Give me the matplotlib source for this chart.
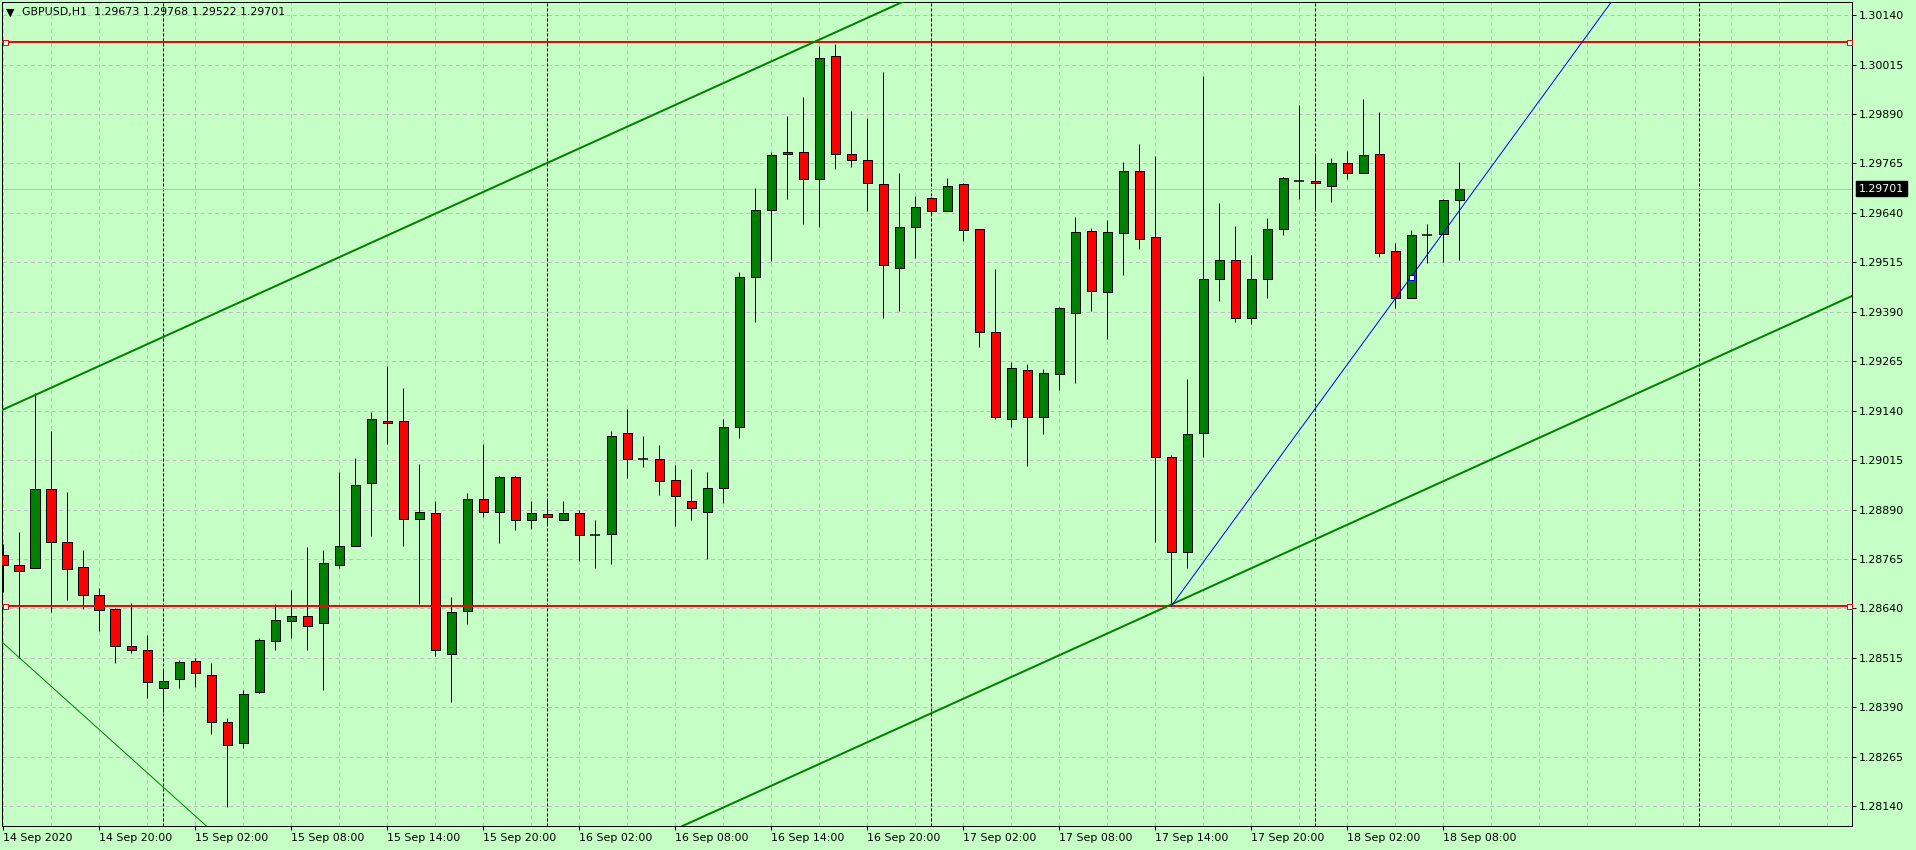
import numpy as np
import matplotlib.pyplot as plt
import matplotlib.transforms as mtransforms

plt.rcParams['font.family'] = ['DejaVu Sans']
plt.rcParams['lines.scale_dashes'] = False

# GBPUSD H1, first bar = 14 Sep 2020 14:00
opens = [1.28775, 1.28749, 1.28741, 1.28941, 1.28807, 1.28744, 1.28673, 1.28638, 1.28544, 1.28536,
         1.28440, 1.28461, 1.28506, 1.28471, 1.28354, 1.28299, 1.28430, 1.28557, 1.28607, 1.28622,
         1.28602, 1.28751, 1.28799, 1.28956, 1.29115, 1.29113, 1.28865, 1.28880, 1.28526, 1.28633,
         1.28916, 1.28883, 1.28971, 1.28863, 1.28878, 1.28863, 1.28880, 1.28825, 1.28827, 1.29083,
         1.29019, 1.29019, 1.28964, 1.28911, 1.28885, 1.28944, 1.29098, 1.29477, 1.29646, 1.29788,
         1.29795, 1.29725, 1.30036, 1.29788, 1.29773, 1.29712, 1.29500, 1.29603, 1.29677, 1.29644,
         1.29712, 1.29598, 1.29340, 1.29120, 1.29242, 1.29125, 1.29232, 1.29386, 1.29593, 1.29439,
         1.29588, 1.29745, 1.29578, 1.29022, 1.28782, 1.29083, 1.29472, 1.29520, 1.29373, 1.29472,
         1.29598, 1.29721, 1.29720, 1.29707, 1.29765, 1.29740, 1.29788, 1.29543, 1.29424, 1.29585,
         1.29586, 1.29673]
highs = [1.28804, 1.28832, 1.29184, 1.29088, 1.28934, 1.28787, 1.28691, 1.28640, 1.28654, 1.28573,
         1.28488, 1.28509, 1.28514, 1.28501, 1.28362, 1.28433, 1.28565, 1.28650, 1.28686, 1.28795,
         1.28787, 1.28985, 1.29020, 1.29136, 1.29253, 1.29197, 1.29005, 1.28911, 1.28669, 1.28933,
         1.29055, 1.28974, 1.28974, 1.28911, 1.28913, 1.28911, 1.28890, 1.28863, 1.29088, 1.29143,
         1.29077, 1.29052, 1.29002, 1.28992, 1.28986, 1.29118, 1.29490, 1.29702, 1.29795, 1.29884,
         1.29934, 1.30063, 1.30068, 1.29897, 1.29881, 1.29995, 1.29740, 1.29683, 1.29680, 1.29728,
         1.29715, 1.29598, 1.29497, 1.29262, 1.29257, 1.29244, 1.29401, 1.29629, 1.29601, 1.29621,
         1.29768, 1.29813, 1.29783, 1.29029, 1.29219, 1.29986, 1.29664, 1.29608, 1.29533, 1.29626,
         1.29730, 1.29912, 1.29783, 1.29778, 1.29796, 1.29928, 1.29894, 1.29564, 1.29596, 1.29613,
         1.29675, 1.29768]
lows = [1.28681, 1.28514, 1.28741, 1.28630, 1.28662, 1.28638, 1.28584, 1.28503, 1.28528, 1.28414,
        1.28377, 1.28439, 1.28442, 1.28322, 1.28138, 1.28288, 1.28425, 1.28536, 1.28564, 1.28534,
        1.28434, 1.28743, 1.28799, 1.28824, 1.29055, 1.28798, 1.28652, 1.28520, 1.28404, 1.28601,
        1.28872, 1.28806, 1.28839, 1.28841, 1.28851, 1.28863, 1.28760, 1.28743, 1.28753, 1.28970,
        1.28998, 1.28927, 1.28849, 1.28863, 1.28765, 1.28906, 1.29072, 1.29365, 1.29519, 1.29676,
        1.29611, 1.29603, 1.29752, 1.29755, 1.29645, 1.29373, 1.29392, 1.29527, 1.29636, 1.29644,
        1.29570, 1.29300, 1.29120, 1.29099, 1.29001, 1.29082, 1.29191, 1.29209, 1.29393, 1.29320,
        1.29482, 1.29548, 1.28808, 1.28646, 1.28741, 1.29024, 1.29416, 1.29363, 1.29358, 1.29426,
        1.29583, 1.29676, 1.29651, 1.29668, 1.29726, 1.29740, 1.29529, 1.29399, 1.29424, 1.29512,
        1.29516, 1.29522]
closes = [1.28751, 1.28734, 1.28941, 1.28807, 1.28739, 1.28673, 1.28636, 1.28544, 1.28534, 1.28453,
          1.28456, 1.28504, 1.28477, 1.28352, 1.28294, 1.28423, 1.28559, 1.28610, 1.28620, 1.28596,
          1.28754, 1.28797, 1.28951, 1.29120, 1.29110, 1.28865, 1.28883, 1.28534, 1.28630, 1.28916,
          1.28883, 1.28971, 1.28863, 1.28880, 1.28870, 1.28880, 1.28825, 1.28825, 1.29077, 1.29019,
          1.29019, 1.28961, 1.28923, 1.28893, 1.28944, 1.29098, 1.29477, 1.29646, 1.29785, 1.29793,
          1.29725, 1.30031, 1.29788, 1.29773, 1.29715, 1.29507, 1.29603, 1.29656, 1.29644, 1.29709,
          1.29596, 1.29338, 1.29125, 1.29247, 1.29125, 1.29234, 1.29399, 1.29591, 1.29442, 1.29591,
          1.29745, 1.29573, 1.29024, 1.28782, 1.29080, 1.29472, 1.29522, 1.29373, 1.29472, 1.29598,
          1.29727, 1.29721, 1.29715, 1.29765, 1.29740, 1.29785, 1.29538, 1.29424, 1.29583, 1.29585,
          1.29672, 1.29701]

price_ticks = [1.28140, 1.28265, 1.28390, 1.28515, 1.28640, 1.28765, 1.28890, 1.29015, 1.29140,
               1.29265, 1.29390, 1.29515, 1.29640, 1.29765, 1.29890, 1.30015, 1.30140]
time_tick_bars = list(range(0, 92, 6))
time_labels = ['14 Sep 2020', '14 Sep 20:00', '15 Sep 02:00', '15 Sep 08:00', '15 Sep 14:00',
               '15 Sep 20:00', '16 Sep 02:00', '16 Sep 08:00', '16 Sep 14:00', '16 Sep 20:00',
               '17 Sep 02:00', '17 Sep 08:00', '17 Sep 14:00', '17 Sep 20:00', '18 Sep 02:00',
               '18 Sep 08:00']
day_separators = [10, 34, 58, 82, 106]

bid = 1.29701
support = 1.28646
resistance = 1.30072
channel_slope = 0.0001833
channel_upper = (0, 1.29143)
channel_lower = (73, 1.28650)
old_trend = (0, 1.28552)
old_trend_slope = -0.000364
blue_trend_x = [73, 88, 110]
blue_trend_y = [1.28646, 1.29479, 1.28646 + 37 * (1.29479 - 1.28646) / 15]

header = 'GBPUSD,H1  1.29673 1.29768 1.29522 1.29701'

bg = '#C6FFC6'
bull = '#008000'
bear = '#FF0000'
px = 0.72  # one pixel in points

fig = plt.figure(figsize=(19.16, 8.5), dpi=100, facecolor=bg)
ax = fig.add_axes([2 / 1916, 24 / 850, 1850 / 1916, 824 / 850], facecolor=bg)

x = np.arange(len(opens))
o = np.array(opens)
h = np.array(highs)
l = np.array(lows)
c = np.array(closes)
up = c > o
dn = c < o
flat = c == o

ax.vlines(x, l, h, color='black', lw=px, zorder=3)
ax.bar(x[up], (c - o)[up], bottom=o[up], width=0.6, color=bull, edgecolor='black', lw=px, zorder=4)
ax.bar(x[dn], (o - c)[dn], bottom=c[dn], width=0.6, color=bear, edgecolor='black', lw=px, zorder=4)
ax.hlines(c[flat], x[flat] - 0.31, x[flat] + 0.31, color='black', lw=1.1, zorder=4)

# day separators
for b in day_separators:
    ax.axvline(b, color='black', lw=px, linestyle=(0, (2.2, 1.4)), zorder=2)

# objects
ax.axhline(bid, color='#BEBEBE', lw=px, zorder=2.5)
ytr = ax.get_yaxis_transform()
for lvl in (resistance, support):
    ax.axhline(lvl, color='red', lw=2 * px, zorder=5)
    ax.plot([3 / 1850, 1847 / 1850], [lvl, lvl], 's', ms=3.6, mfc='white', mec='red',
            mew=px, transform=ytr, zorder=6, clip_on=False)

ax.axline(channel_upper, slope=channel_slope, color=bull, lw=2 * px, zorder=5)
ax.axline(channel_lower, slope=channel_slope, color=bull, lw=2 * px, zorder=5)
ax.axline(old_trend, slope=old_trend_slope, color=bull, lw=px, zorder=5)
ax.plot(blue_trend_x, blue_trend_y, color='blue', lw=px, zorder=5)
ax.plot(blue_trend_x[1], blue_trend_y[1], 's', ms=3.6, mfc='white', mec='blue', mew=px, zorder=6)

ax.set_xlim(-0.081, 115.54)
ax.set_ylim(1.28090, 1.30173)

# axes, ticks, grid
ax.yaxis.tick_right()
ax.set_yticks(price_ticks)
ax.set_yticklabels(['%.5f' % p for p in price_ticks])
ax.set_xticks(time_tick_bars)
ax.set_xticklabels(time_labels, ha='left')
ax.set_xticks(np.arange(0, 116, 3), minor=True)
ax.tick_params(axis='y', which='major', direction='out', length=2.9, width=px, pad=2.2,
               labelsize=7.9, colors='black')
ax.tick_params(axis='x', which='major', direction='out', length=2.9, width=px, pad=2.0,
               labelsize=7.9, colors='black')
ax.tick_params(axis='x', which='minor', length=0)
ax.set_axisbelow(True)
ax.grid(True, which='both', color='#C4BCC4', lw=px, linestyle=(0, (2.9, 2.2)))
for s in ax.spines.values():
    s.set_color('black')
    s.set_linewidth(px)

trans = mtransforms.blended_transform_factory(ax.transAxes, ax.transData)
ax.text(1.0038, bid, '%.5f' % bid, transform=trans, va='center', ha='left', color='white',
        fontsize=7.9, clip_on=False,
        bbox=dict(boxstyle='square,pad=0.25', fc='black', ec='black'))

fig.text(6 / 1916, 1 - 12.5 / 850, '\u25BC', fontsize=8, va='center', ha='left', color='black')
fig.text(22 / 1916, 1 - 12.5 / 850, header, fontsize=7.9, va='center', ha='left', color='black')

fig.savefig('out.png', dpi=100, facecolor=bg)
